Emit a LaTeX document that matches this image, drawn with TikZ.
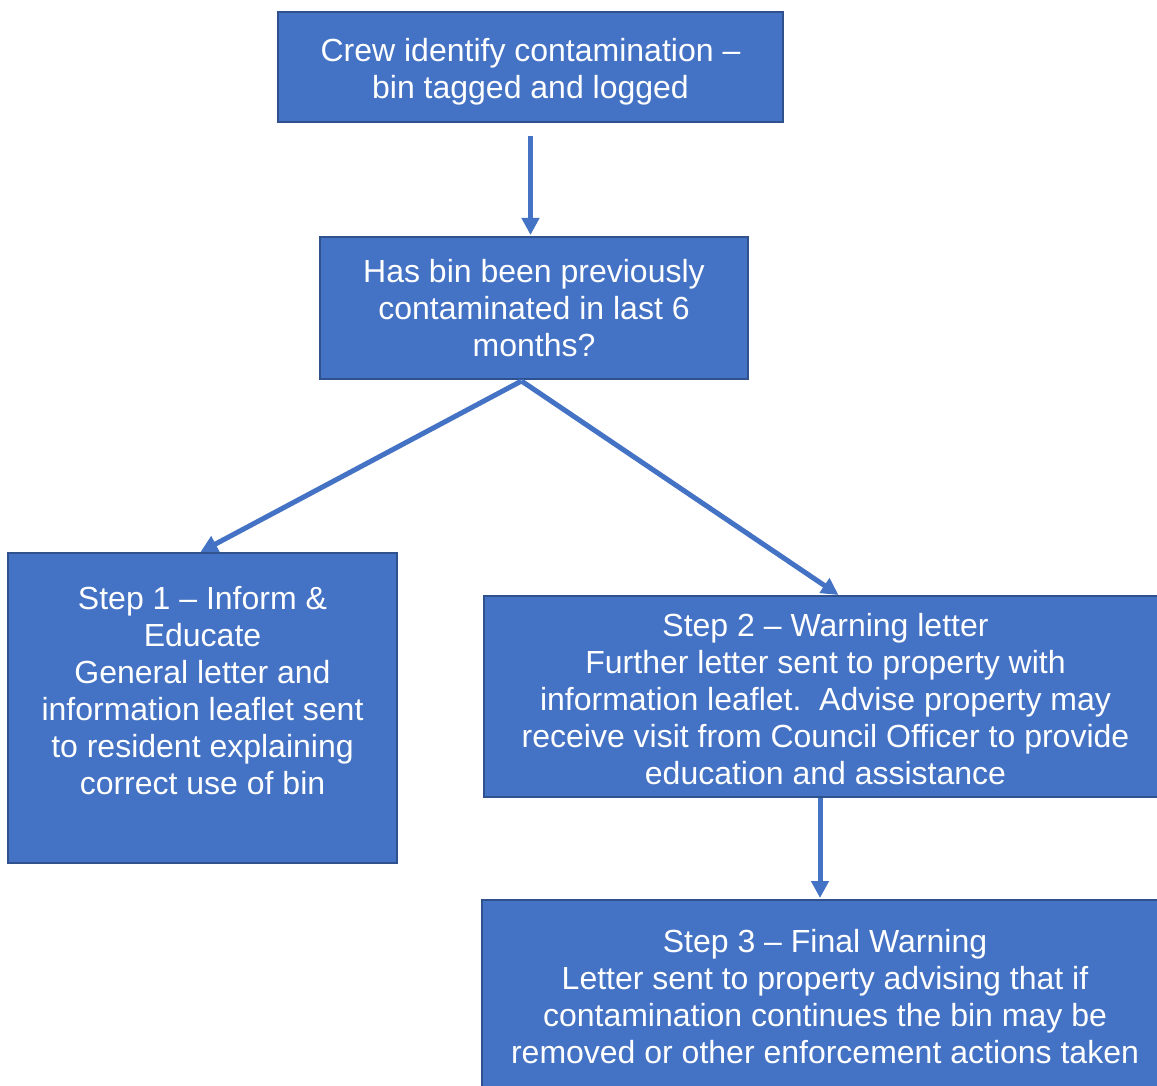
\documentclass[tikz,border=0pt]{standalone}
\usepackage{fontspec}
\setmainfont{Liberation Sans}
\usetikzlibrary{arrows.meta}
\definecolor{boxfill}{HTML}{4472C4}
\definecolor{boxline}{HTML}{2F528F}
\tikzset{
  flowbox/.style={draw=boxline, line width=2pt, fill=boxfill, rectangle, inner sep=0pt},
  flowtext/.style={text=white, align=center, inner sep=0pt, anchor=north,
    font=\fontsize{32}{37}\selectfont},
  flowarrow/.style={draw=boxfill, line width=5pt, -{Triangle[length=17pt,width=17pt]}}
}
\begin{document}
\begin{tikzpicture}[x=1pt,y=-1pt]
\clip (0,0) rectangle (1157,1086);
\fill[white] (0,0) rectangle (1157,1086);
% boxes
\node[flowbox, minimum width=505pt, minimum height=110pt] (A) at (530.5,67) {};
\node[flowbox, minimum width=428pt, minimum height=142pt] (B) at (534,308) {};
\node[flowbox, minimum width=389pt, minimum height=310pt] (C) at (202.5,708) {};
\node[flowbox, minimum width=683pt, minimum height=201pt] (D) at (825.5,696.5) {};
\node[flowbox, minimum width=686pt, minimum height=200pt] (E) at (825,1000) {};
% texts
\node[flowtext] (tA) at (530.5,37.7) {Crew identify contamination –\\bin tagged and logged};
\node[flowtext] (tB) at (534,258.7) {Has bin been previously\\contaminated in last 6\\months?};
\node[flowtext] (tC) at (202.5,585.7) {Step 1 – Inform \&\\Educate\\General letter and\\information leaflet sent\\to resident explaining\\correct use of bin};
\node[flowtext] (tD) at (825.5,612.7) {Step 2 – Warning letter\\Further letter sent to property with\\information leaflet.\ \ Advise property may\\receive visit from Council Officer to provide\\education and assistance};
\node[flowtext] (tE) at (825,928.7) {Step 3 – Final Warning\\Letter sent to property advising that if\\contamination continues the bin may be\\removed or other enforcement actions taken};
% connectors
\draw[flowarrow] ([yshift=-13pt]A.south) -- ([yshift=1pt]A.south |- B.north);
\draw[flowarrow] ([xshift=-12.5pt,yshift=-1pt]B.south) -- ([xshift=-2pt]C.north);
\draw[flowarrow] ([xshift=-12.5pt,yshift=-1pt]B.south) -- ([xshift=13pt]D.north);
\draw[flowarrow] ([xshift=-5.5pt]D.south) -- ([xshift=-5.5pt,yshift=1pt]D.south |- E.north);
\end{tikzpicture}
\end{document}
